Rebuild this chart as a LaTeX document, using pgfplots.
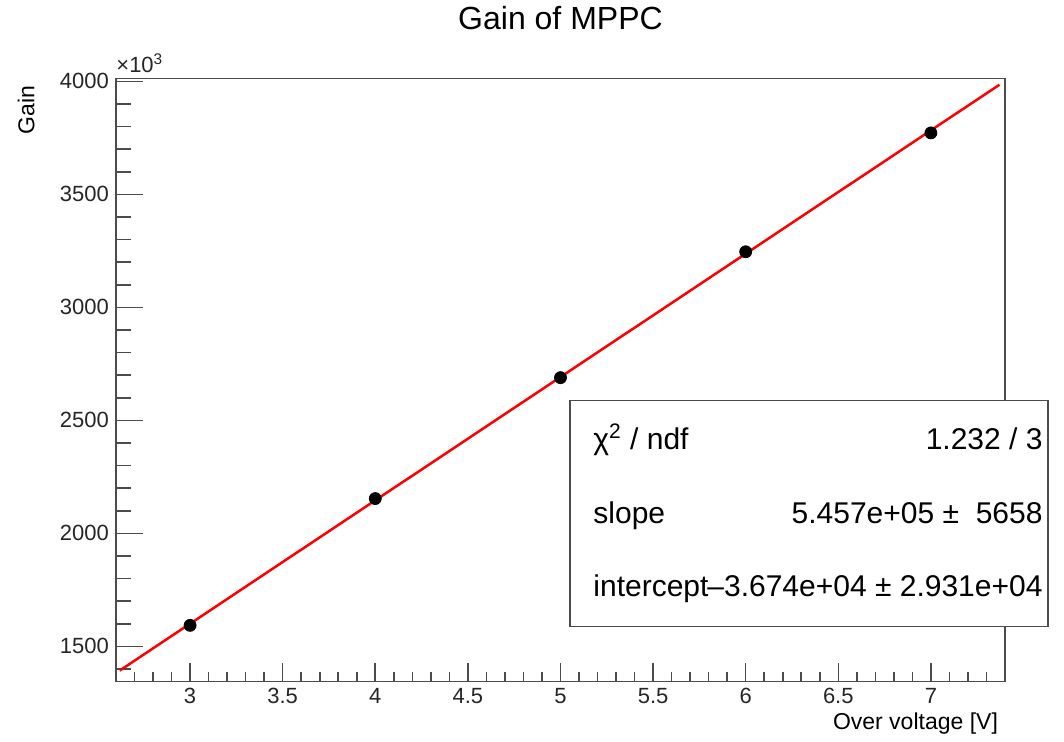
\documentclass[border=0pt]{standalone}
\usepackage{pgfplots}
\pgfplotsset{compat=1.18}
\usepackage{fontspec}
\setmainfont{Liberation Sans}
\begin{document}
\begin{tikzpicture}
\begin{axis}[
  scale only axis,
  width=444.5pt, height=301.5pt,
  xmin=2.6, xmax=7.4, ymin=1345, ymax=4013,
  clip=false,
  axis line style={line width=0.8pt, black!70},
  tick align=inside,
  tick pos=left,
  xtick={3,3.5,4,4.5,5,5.5,6,6.5,7},
  minor xtick={2.7,2.8,2.9,3.1,3.2,3.3,3.4,3.6,3.7,3.8,3.9,4.1,4.2,4.3,4.4,4.6,4.7,4.8,4.9,5.1,5.2,5.3,5.4,5.6,5.7,5.8,5.9,6.1,6.2,6.3,6.4,6.6,6.7,6.8,6.9,7.1,7.2,7.3},
  ytick={1500,2000,2500,3000,3500,4000},
  minor ytick={1400,1600,1700,1800,1900,2100,2200,2300,2400,2600,2700,2800,2900,3100,3200,3300,3400,3600,3700,3800,3900},
  x tick style={line width=0.8pt, black!70, /pgfplots/major tick length=9pt, /pgfplots/minor tick length=4.5pt},
  y tick style={line width=0.8pt, black!70, /pgfplots/major tick length=13.5pt, /pgfplots/minor tick length=7.5pt},
  ticklabel style={font=\fontsize{11}{13}\selectfont, text=black!85},
  /pgf/number format/assume math mode=true,
  /pgf/number format/1000 sep={},
  scaled y ticks=false,
  title={Gain of MPPC},
  title style={font=\fontsize{16}{19}\selectfont, at={(axis description cs:0.5,1)}, anchor=center, yshift=24pt},
  xlabel={Over voltage [V]},
  xlabel style={font=\fontsize{11.5}{14}\selectfont, at={(axis description cs:1,-0.07)}, anchor=east},
  ylabel={Gain},
  ylabel style={font=\fontsize{11.5}{14}\selectfont, at={(axis description cs:-0.101,1.0)}, anchor=east},
]
\addplot[only marks, mark=*, mark size=3pt, black] coordinates {
  (3,1593) (4,2154) (5,2689) (6,3246) (7,3772)
};
\addplot[red, line width=1.25pt] coordinates {
  (2.62,1393) (7.37,3985)
};
\node[anchor=base west, inner sep=0, font=\fontsize{11}{13}\selectfont, text=black!85] at (rel axis cs:0,1) [yshift=3pt] {×10\textsuperscript{3}};
\draw[line width=0.8pt, black!70, fill=white] (rel axis cs:0.5107,0.0912) rectangle (rel axis cs:1.0484,0.466);
\node[anchor=base west, inner sep=0, font=\fontsize{15}{18}\selectfont] at (rel axis cs:0.5366,0.3847) {χ\textsuperscript{2} / ndf};
\node[anchor=base east, inner sep=0, font=\fontsize{15}{18}\selectfont] at (rel axis cs:1.0427,0.3847) {1.232 / 3};
\node[anchor=base west, inner sep=0, font=\fontsize{15}{18}\selectfont] at (rel axis cs:0.5366,0.2620) {slope};
\node[anchor=base east, inner sep=0, font=\fontsize{15}{18}\selectfont] at (rel axis cs:1.0427,0.2620) {5.457e+05 ±\ \ 5658};
\node[anchor=base west, inner sep=0, font=\fontsize{15}{18}\selectfont] at (rel axis cs:0.5366,0.1410) {intercept};
\node[anchor=base east, inner sep=0, font=\fontsize{15}{18}\selectfont] at (rel axis cs:1.0427,0.1410) {–3.674e+04 ± 2.931e+04};
\path (rel axis cs:-0.1305,-0.0945) rectangle (rel axis cs:1.0664,1.1211);
\end{axis}
\end{tikzpicture}
\end{document}
